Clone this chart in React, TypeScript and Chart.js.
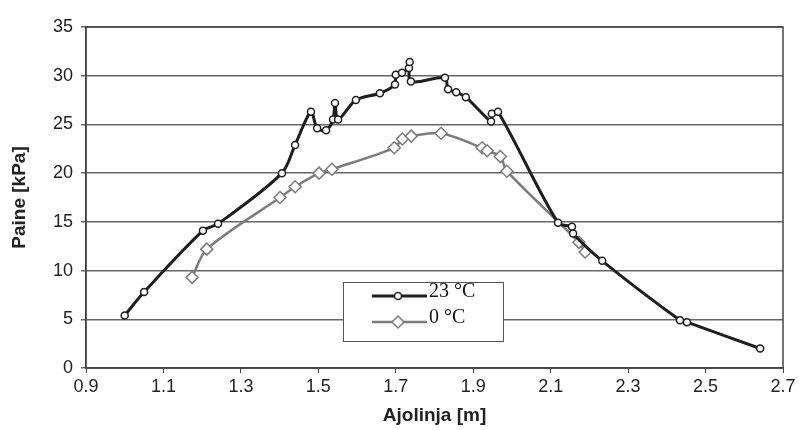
import React, { useEffect, useRef } from "react";
import { Chart, registerables } from "chart.js";

Chart.register(...registerables);

const seriesNames = ["23 °C", "0 °C"];

const x23 = [1.0, 1.05, 1.202, 1.241, 1.406, 1.44, 1.481, 1.497, 1.52, 1.538, 1.543, 1.551, 1.597, 1.659, 1.698, 1.7, 1.716, 1.734, 1.736, 1.739, 1.827, 1.835, 1.856, 1.881, 1.946, 1.948, 1.964, 2.119, 2.155, 2.158, 2.233, 2.434, 2.452, 2.641];
const y23 = [5.4, 7.8, 14.1, 14.8, 20.0, 22.9, 26.3, 24.6, 24.4, 25.5, 27.2, 25.5, 27.5, 28.2, 29.1, 30.1, 30.3, 30.8, 31.4, 29.4, 29.8, 28.6, 28.3, 27.8, 25.3, 26.1, 26.3, 14.9, 14.5, 13.8, 11.0, 4.9, 4.7, 2.0];

const x0 = [1.174, 1.212, 1.401, 1.44, 1.502, 1.535, 1.696, 1.717, 1.74, 1.817, 1.923, 1.936, 1.97, 1.987, 2.173, 2.189];
const y0 = [9.3, 12.2, 17.5, 18.6, 20.0, 20.4, 22.6, 23.5, 23.8, 24.1, 22.6, 22.3, 21.7, 20.2, 12.9, 11.9];

const xTicks = [0.9, 1.1, 1.3, 1.5, 1.7, 1.9, 2.1, 2.3, 2.5, 2.7];
const yTicks = [0, 5, 10, 15, 20, 25, 30, 35];

const xTitle = "Ajolinja [m]";
const yTitle = "Paine [kPa]";

const toPoints = (xs: number[], ys: number[]) => xs.map((x, i) => ({ x, y: ys[i] }));

const C23 = "#1e1e1e";
const C0 = "#7c7c7c";

const frame = {
  id: "frame",
  afterDatasetsDraw(chart: any) {
    const { ctx, chartArea: a } = chart;
    ctx.save();
    ctx.strokeStyle = "#444";
    ctx.lineWidth = 1.5;
    ctx.strokeRect(a.left, a.top, a.right - a.left, a.bottom - a.top);
    ctx.restore();
  },
};

const boxLegend = {
  id: "boxLegend",
  afterDraw(chart: any) {
    const { ctx, chartArea: a } = chart;
    const left = a.left + 257;
    const top = a.top + 255;
    const w = 160;
    const h = 59;
    ctx.save();
    ctx.fillStyle = "#fff";
    ctx.fillRect(left, top, w, h);
    ctx.strokeStyle = "#555";
    ctx.lineWidth = 1;
    ctx.strokeRect(left + 0.5, top + 0.5, w, h);
    const rows = [
      { y: top + 14, color: C23, lw: 3, style: "circle", r: 3.5, bw: 1.5 },
      { y: top + 40, color: C0, lw: 2.5, style: "rectRot", r: 6, bw: 1.5 },
    ];
    rows.forEach((r, i) => {
      ctx.strokeStyle = r.color;
      ctx.lineWidth = r.lw;
      ctx.beginPath();
      ctx.moveTo(left + 29, r.y);
      ctx.lineTo(left + 84, r.y);
      ctx.stroke();
      ctx.fillStyle = "#fff";
      ctx.strokeStyle = r.color;
      ctx.lineWidth = r.bw;
      ctx.beginPath();
      const cx = left + 55;
      if (r.style === "circle") {
        ctx.arc(cx, r.y, r.r, 0, Math.PI * 2);
      } else {
        ctx.moveTo(cx, r.y - r.r);
        ctx.lineTo(cx + r.r, r.y);
        ctx.lineTo(cx, r.y + r.r);
        ctx.lineTo(cx - r.r, r.y);
        ctx.closePath();
      }
      ctx.fill();
      ctx.stroke();
      ctx.fillStyle = "#111";
      ctx.font = '20px "Liberation Serif", serif';
      ctx.textBaseline = "middle";
      ctx.textAlign = "left";
      ctx.fillText(seriesNames[i], left + 86, r.y - 4);
    });
    ctx.restore();
  },
};

export default function App() {
  const ref = useRef<HTMLCanvasElement>(null);
  useEffect(() => {
    if (!ref.current) return;
    const chart = new Chart(ref.current, {
      type: "scatter",
      data: {
        datasets: [
          {
            label: seriesNames[0],
            data: toPoints(x23, y23),
            showLine: true,
            borderColor: C23,
            borderWidth: 3,
            tension: 0.3,
            pointStyle: "circle",
            pointRadius: 3.5,
            pointBorderWidth: 1.5,
            pointBackgroundColor: "#fff",
            pointBorderColor: C23,
            order: 1,
          },
          {
            label: seriesNames[1],
            data: toPoints(x0, y0),
            showLine: true,
            borderColor: C0,
            borderWidth: 2.5,
            tension: 0.3,
            pointStyle: "rectRot",
            pointRadius: 6,
            pointBorderWidth: 1.5,
            pointBackgroundColor: "#fff",
            pointBorderColor: C0,
            order: 2,
          },
        ],
      },
      options: {
        responsive: false,
        animation: false,
        layout: { padding: { top: 27, right: 16, left: 0, bottom: 0 } },
        plugins: { legend: { display: false }, tooltip: { enabled: false } },
        scales: {
          x: {
            type: "linear",
            min: 0.9,
            max: 2.7,
            afterBuildTicks: (s: any) => {
              s.ticks = xTicks.map((v) => ({ value: v }));
            },
            afterFit: (s: any) => {
              s.height = 62;
            },
            ticks: {
              color: "#222",
              font: { family: '"Liberation Sans", Arial, sans-serif', size: 18 },
              padding: 3,
              callback: (v: any) => Number(v).toFixed(1),
              maxRotation: 0,
            },
            grid: { drawOnChartArea: false, drawTicks: true, tickLength: 5, color: "#444", lineWidth: 1 },
            border: { color: "#444", width: 1.5 },
            title: {
              display: true,
              text: xTitle,
              color: "#222",
              font: { family: '"Liberation Sans", Arial, sans-serif', size: 19, weight: "bold" },
              padding: { top: 0, bottom: 3 },
            },
          },
          y: {
            type: "linear",
            min: 0,
            max: 35,
            afterBuildTicks: (s: any) => {
              s.ticks = yTicks.map((v) => ({ value: v }));
            },
            afterFit: (s: any) => {
              s.width = 86;
            },
            ticks: {
              color: "#222",
              font: { family: '"Liberation Sans", Arial, sans-serif', size: 18 },
              padding: 8,
            },
            grid: { color: "#666", lineWidth: 1.5, tickLength: 5 },
            border: { color: "#444", width: 1.5 },
            title: {
              display: true,
              text: yTitle,
              color: "#222",
              font: { family: '"Liberation Sans", Arial, sans-serif', size: 19, weight: "bold" },
              padding: { top: 8, bottom: 0 },
            },
          },
        },
      },
      plugins: [frame, boxLegend],
    });
    return () => chart.destroy();
  }, []);
  return (
    <div style={{ position: "fixed", left: 0, top: 0, width: 799, height: 430, background: "#fff" }}>
      <canvas ref={ref} width={799} height={430} />
    </div>
  );
}
